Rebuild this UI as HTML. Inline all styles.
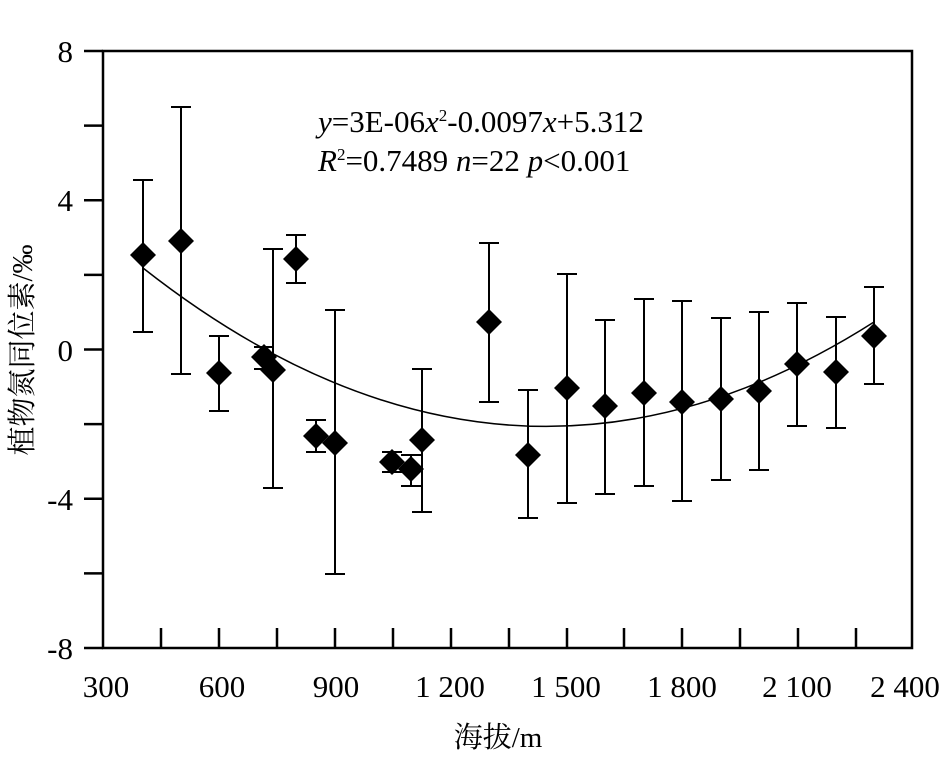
<!DOCTYPE html>
<html><head><meta charset="utf-8"><style>body{margin:0;background:#fff}</style></head><body>
<svg width="945" height="756" xmlns="http://www.w3.org/2000/svg" font-family="Liberation Serif, Noto Serif CJK SC, serif">
<g stroke="#000" stroke-width="2.5" fill="none">
<rect x="103" y="51" width="809" height="597"/>
<path d="M84 51H103M84 125.6H103M84 200.3H103M84 274.9H103M84 349.5H103M84 424.1H103M84 498.8H103M84 573.4H103M84 648H103"/>
<path d="M161 648V628M219 648V628M277 648V628M335 648V628M393 648V628M451 648V628M509 648V628M567 648V628M624 648V628M682 648V628M740 648V628M798 648V628M856 648V628"/>
</g>
<g font-size="31" text-anchor="end">
<text x="73" y="62">8</text><text x="73" y="211">4</text><text x="73" y="361">0</text><text x="73" y="510">-4</text><text x="73" y="659">-8</text>
</g>
<g font-size="31" text-anchor="middle">
<text x="106" y="697">300</text><text x="222" y="697">600</text><text x="336" y="697">900</text><text x="450" y="697">1 200</text><text x="566" y="697">1 500</text><text x="682" y="697">1 800</text><text x="797" y="697">2 100</text><text x="905" y="697">2 400</text>
</g>
<text x="498" y="747" font-size="29" text-anchor="middle">海拔/m</text>
<text transform="translate(32,350) rotate(-90)" font-size="29" text-anchor="middle">植物氮同位素/‰</text>
<text x="318" y="132" font-size="31"><tspan font-style="italic">y</tspan>=3E-06<tspan font-style="italic">x</tspan><tspan font-size="17" dy="-11">2</tspan><tspan dy="11">-0.0097</tspan><tspan font-style="italic">x</tspan>+5.312</text>
<text x="318" y="171" font-size="31"><tspan font-style="italic">R</tspan><tspan font-size="17" dy="-11">2</tspan><tspan dy="11">=0.7489  </tspan><tspan font-style="italic">n</tspan>=22  <tspan font-style="italic">p</tspan>&lt;0.001</text>
<path fill="none" stroke="#000" stroke-width="1.5" d="M143 268Q508 555 874 322"/>
<g stroke="#000" stroke-width="2" fill="none">
<path d="M143 180V332M133 180H153M133 332H153"/>
<path d="M181 107V374M171 107H191M171 374H191"/>
<path d="M219 336V411M209 336H229M209 411H229"/>
<path d="M264 347V369M254 347H274M254 369H274"/>
<path d="M273 249V488M263 249H283M263 488H283"/>
<path d="M296 235V283M286 235H306M286 283H306"/>
<path d="M316 420V452M306 420H326M306 452H326"/>
<path d="M335 310V574M325 310H345M325 574H345"/>
<path d="M392 452V472M382 452H402M382 472H402"/>
<path d="M411 455V486M401 455H421M401 486H421"/>
<path d="M422 369V512M412 369H432M412 512H432"/>
<path d="M489 243V402M479 243H499M479 402H499"/>
<path d="M528 390V518M518 390H538M518 518H538"/>
<path d="M567 274V503M557 274H577M557 503H577"/>
<path d="M605 320V494M595 320H615M595 494H615"/>
<path d="M644 299V486M634 299H654M634 486H654"/>
<path d="M682 301V501M672 301H692M672 501H692"/>
<path d="M721 318V480M711 318H731M711 480H731"/>
<path d="M759 312V470M749 312H769M749 470H769"/>
<path d="M797 303V426M787 303H807M787 426H807"/>
<path d="M836 317V428M826 317H846M826 428H846"/>
<path d="M874 287V384M864 287H884M864 384H884"/>
</g>
<g fill="#000">
<polygon points="143,242 156,255 143,268 130,255"/>
<polygon points="181,228 194,241 181,254 168,241"/>
<polygon points="219,360 232,373 219,386 206,373"/>
<polygon points="264,344 277,357 264,370 251,357"/>
<polygon points="273,357 286,370 273,383 260,370"/>
<polygon points="296,246 309,259 296,272 283,259"/>
<polygon points="316,423 329,436 316,449 303,436"/>
<polygon points="335,430 348,443 335,456 322,443"/>
<polygon points="392,449 405,462 392,475 379,462"/>
<polygon points="411,456 424,469 411,482 398,469"/>
<polygon points="422,427 435,440 422,453 409,440"/>
<polygon points="489,309 502,322 489,335 476,322"/>
<polygon points="528,442 541,455 528,468 515,455"/>
<polygon points="567,375 580,388 567,401 554,388"/>
<polygon points="605,393 618,406 605,419 592,406"/>
<polygon points="644,380 657,393 644,406 631,393"/>
<polygon points="682,389 695,402 682,415 669,402"/>
<polygon points="721,386 734,399 721,412 708,399"/>
<polygon points="759,378 772,391 759,404 746,391"/>
<polygon points="797,351 810,364 797,377 784,364"/>
<polygon points="836,359 849,372 836,385 823,372"/>
<polygon points="874,323 887,336 874,349 861,336"/>
</g>
</svg>
</body></html>
